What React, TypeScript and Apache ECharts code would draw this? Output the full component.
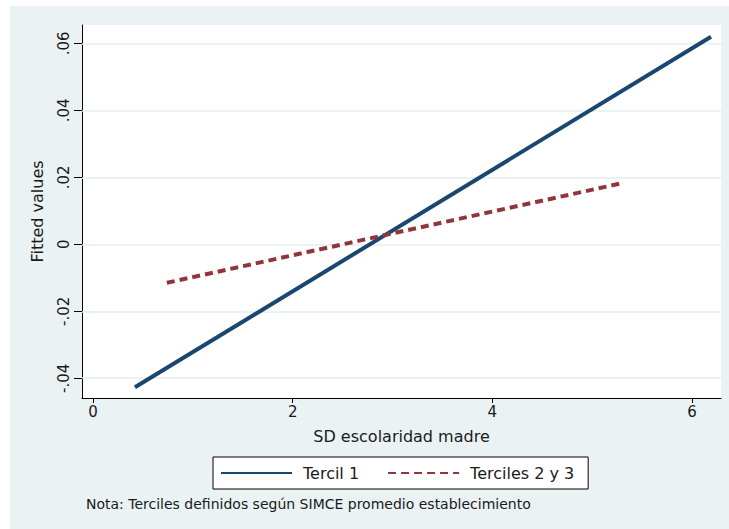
import React, { useEffect, useRef } from "react";
import * as echarts from "echarts";

const seriesNames = ["Tercil 1", "Terciles 2 y 3"];
const tercil1Points = [
  [0.42, -0.0427],
  [6.19, 0.062],
];
const terciles23Points = [
  [0.74, -0.0115],
  [5.29, 0.0182],
];
const xTicks = [0, 2, 4, 6];
const yTicks = [-0.04, -0.02, 0, 0.02, 0.04, 0.06];
const xTitle = "SD escolaridad madre";
const yTitle = "Fitted values";
const noteText = "Nota: Terciles definidos según SIMCE promedio establecimiento";

const fmtY = (v: number) => {
  if (Math.abs(v) < 1e-9) return "0";
  const s = v.toFixed(2);
  return s.replace("0.", ".");
};

export default function App() {
  const ref = useRef<HTMLDivElement>(null);
  useEffect(() => {
    document.body.style.margin = "0";
    const chart = echarts.init(ref.current!, null, { renderer: "svg" });
    const font = "'DejaVu Sans', Arial, sans-serif";
    chart.setOption({
      animation: false,
      backgroundColor: "#ffffff",
      graphic: [
        {
          type: "rect",
          left: 10,
          top: 6,
          shape: { width: 719, height: 523 },
          style: { fill: "#eaf2f3" },
          z: -10,
          silent: true,
        },
        {
          type: "text",
          left: 86,
          top: 497,
          style: { text: noteText, font: `14px ${font}`, fill: "#1a1a1a" },
          silent: true,
        },
      ],
      grid: {
        left: 82,
        top: 25,
        right: 8,
        bottom: 131,
        show: true,
        backgroundColor: "#ffffff",
        borderWidth: 0,
      },
      legend: {
        data: seriesNames,
        left: 213,
        top: 457,
        orient: "horizontal",
        itemWidth: 71,
        itemHeight: 14,
        itemGap: 28,
        padding: [8, 14, 8, 7],
        backgroundColor: "#ffffff",
        borderColor: "#000000",
        borderWidth: 1,
        itemStyle: { opacity: 0 },
        textStyle: { fontFamily: font, fontSize: 16, color: "#1a1a1a", padding: [0, 0, 0, 6] },
      },
      xAxis: {
        type: "value",
        min: -0.11,
        max: 6.29,
        name: xTitle,
        nameLocation: "middle",
        nameGap: 30,
        nameTextStyle: { fontFamily: font, fontSize: 16, color: "#1a1a1a" },
        axisLine: { show: true, onZero: false, lineStyle: { color: "#000", width: 1 } },
        axisTick: { show: true, length: 5, customValues: xTicks, lineStyle: { color: "#000" } },
        axisLabel: {
          customValues: xTicks,
          fontFamily: font,
          fontSize: 15,
          color: "#1a1a1a",
          margin: 6,
        },
        splitLine: { show: false },
      },
      yAxis: {
        type: "value",
        min: -0.0459,
        max: 0.0655,
        name: yTitle,
        nameLocation: "middle",
        nameRotate: 90,
        nameGap: 37,
        nameTextStyle: { fontFamily: font, fontSize: 16, color: "#1a1a1a" },
        axisLine: { show: true, onZero: false, lineStyle: { color: "#000", width: 1 } },
        axisTick: { show: true, length: 8, customValues: yTicks, lineStyle: { color: "#000" } },
        axisLabel: {
          customValues: yTicks,
          rotate: 90,
          formatter: (v: number) => fmtY(v),
          fontFamily: font,
          fontSize: 15,
          color: "#1a1a1a",
          margin: 11,
        },
        splitLine: { show: false },
      },
      series: [
        {
          name: seriesNames[0],
          type: "line",
          data: tercil1Points,
          symbol: "none",
          color: "#1a476f",
          lineStyle: { color: "#1a476f", width: 4 },
          z: 3,
          markLine: {
            silent: true,
            symbol: ["none", "none"],
            label: { show: false },
            lineStyle: { color: "#e4eef0", width: 1.5, type: "solid" },
            data: yTicks.map((v) => ({ yAxis: v })),
            z: 1,
          },
        },
        {
          name: seriesNames[1],
          type: "line",
          data: terciles23Points,
          symbol: "none",
          color: "#90353b",
          lineStyle: { color: "#90353b", width: 4, type: [8, 5] },
          z: 4,
        },
      ],
    });
    return () => chart.dispose();
  }, []);
  return (
    <div
      ref={ref}
      style={{ position: "fixed", left: 0, top: 0, width: 729, height: 529 }}
    />
  );
}
